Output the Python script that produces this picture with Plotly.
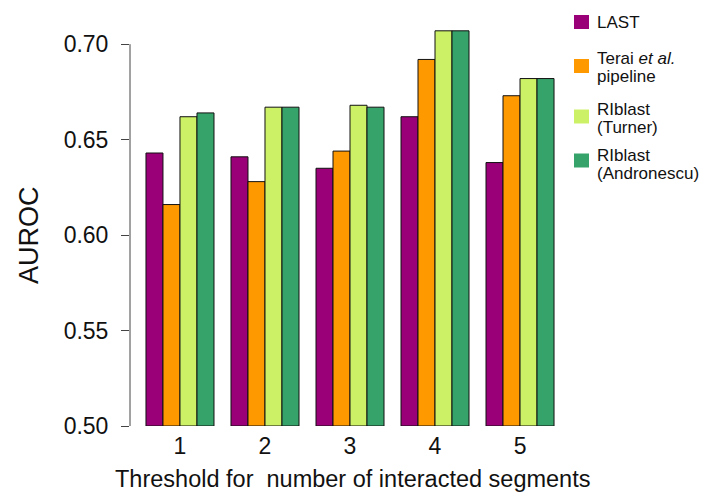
import plotly.graph_objects as go

thresholds = [1, 2, 3, 4, 5]
tick_labels = ["1", "2", "3", "4", "5"]
last_vals = [0.643, 0.641, 0.635, 0.662, 0.638]
terai_vals = [0.616, 0.628, 0.644, 0.692, 0.673]
turner_vals = [0.662, 0.667, 0.668, 0.707, 0.682]
andronescu_vals = [0.664, 0.667, 0.667, 0.707, 0.682]
y_ticks = [0.50, 0.55, 0.60, 0.65, 0.70]
y_tick_text = ["0.50", "0.55", "0.60", "0.65", "0.70"]

series_names = ["LAST", "Terai <i>et al.</i> pipeline", "RIblast (Turner)", "RIblast (Andronescu)"]
legend_lines = [["LAST"], ["Terai <i>et al.</i>", "pipeline"], ["RIblast", "(Turner)"], ["RIblast", "(Andronescu)"]]
series_vals = [last_vals, terai_vals, turner_vals, andronescu_vals]
colors = ["#9A0078", "#FF9900", "#CCF066", "#36A36B"]

FONT = "Liberation Sans, Arial, Helvetica, sans-serif"
W, H = 705, 496
ML, MR, MT, MB = 130, 135, 6, 70
PW = W - ML - MR
PH = H - MT - MB

fig = go.Figure()
for name, vals, col in zip(series_names, series_vals, colors):
    fig.add_trace(go.Bar(
        x=thresholds, y=[v - 0.5 for v in vals], base=0.5, name=name,
        marker=dict(color=col, line=dict(color="#111111", width=1)),
        showlegend=False,
    ))

def px_x(p):
    return (p - ML) / PW

def px_y(p):
    return (H - MB - p) / PH

shapes = [dict(type="line", xref="paper", yref="y", x0=0, x1=0, y0=0.5, y1=0.7,
               line=dict(color="#444444", width=1))]
annotations = []
square_centers = [22, 66, 116.5, 160.5]
line_centers = [[23], [58, 76.5], [109.5, 128], [155.5, 173.5]]
for lines, col, cy, lcs in zip(legend_lines, colors, square_centers, line_centers):
    shapes.append(dict(type="rect", xref="paper", yref="paper",
                       x0=px_x(574), x1=px_x(589), y0=px_y(cy + 7), y1=px_y(cy - 7),
                       fillcolor=col, line=dict(width=0)))
    for txt, ly in zip(lines, lcs):
        annotations.append(dict(xref="paper", yref="paper", x=px_x(595), y=px_y(ly),
                                xanchor="left", yanchor="middle", text=txt, showarrow=False,
                                align="left", font=dict(size=17, color="#111111", family=FONT)))

annotations.append(dict(xref="paper", yref="paper", x=px_x(29), y=px_y(235),
                        text="AUROC", textangle=-90, showarrow=False,
                        xanchor="center", yanchor="middle",
                        font=dict(size=27, color="#111111", family=FONT)))
annotations.append(dict(xref="paper", yref="paper", x=px_x(352), y=px_y(479),
                        text="Threshold for \u00a0number of interacted segments", showarrow=False,
                        xanchor="center", yanchor="middle",
                        font=dict(size=23.5, color="#111111", family=FONT)))

fig.update_layout(
    width=W, height=H,
    margin=dict(l=ML, r=MR, t=MT, b=MB),
    plot_bgcolor="white", paper_bgcolor="white",
    barmode="group", bargap=0.2, bargroupgap=0,
    font=dict(family=FONT, color="#111111"),
    shapes=shapes, annotations=annotations,
    xaxis=dict(range=[0.412, 5.588], tickvals=thresholds, ticktext=tick_labels,
               showgrid=False, zeroline=False, showline=False, ticks="",
               ticklabelstandoff=4,
               tickfont=dict(size=23, family=FONT, color="#111111")),
    yaxis=dict(range=[0.5, 0.72], tickvals=y_ticks, ticktext=y_tick_text,
               showgrid=False, zeroline=False, showline=False,
               ticks="outside", ticklen=8, tickcolor="#444444", tickwidth=1,
               ticklabelstandoff=8, tickfont=dict(size=23, family=FONT, color="#111111")),
)

fig.write_html("out.html", config={"displayModeBar": False},
               post_script="document.body.style.margin='0';")
